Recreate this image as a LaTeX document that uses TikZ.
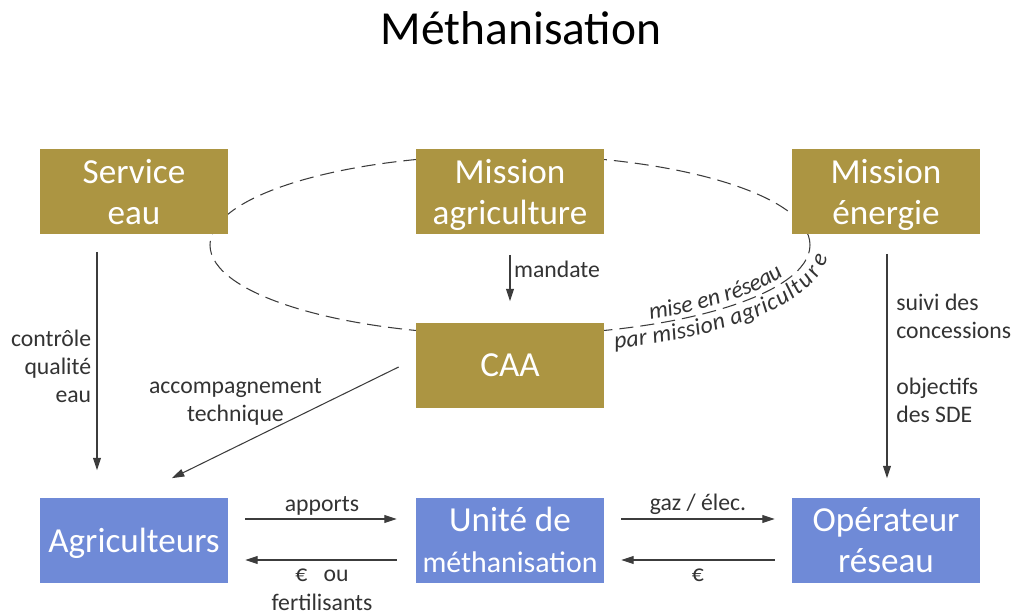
\documentclass[tikz,border=0pt]{standalone}
\usepackage{fontspec}
\setmainfont{Carlito}
\usetikzlibrary{arrows.meta,decorations.text}

\definecolor{boxgold}{HTML}{AC9542}
\definecolor{boxblue}{HTML}{6F8AD7}
\definecolor{linegray}{HTML}{3C3C3C}
\definecolor{textgray}{HTML}{333333}

\begin{document}
\begin{tikzpicture}[
  box/.style={minimum width=3.76cm, minimum height=1.7cm, inner sep=0pt, text depth=0pt, align=center, text=white, font=\fontsize{20}{23.5}\selectfont},
  goldbox/.style={box, fill=boxgold},
  bluebox/.style={box, fill=boxblue},
  flow/.style={draw=linegray, line width=0.6pt, -{Triangle[length=7pt,width=4.5pt]}},
  lbl/.style={text=textgray, font=\fontsize{13.5}{16}\selectfont, inner sep=2pt},
  ring/.style={draw=linegray, line width=0.6pt, dash pattern=on 8pt off 4pt}
]
\useasboundingbox (0,0) rectangle (20.26,12.26);
\node[font=\fontsize{27}{32}\selectfont] (titre) at (10.42,11.7) {Méthanisation};

% reseau des missions
\draw[ring] (10.2,7.36) ellipse [x radius=6cm, y radius=1.8cm];
\path[decorate, decoration={text along path, text align=center, raise=3pt, text color=textgray,
    text={|\fontsize{13.5}{16}\selectfont\itshape|mise en réseau}}]
  (10.2,7.36) ++(-71:6cm and 1.8cm) arc[start angle=-71, end angle=0, x radius=6cm, y radius=1.8cm];
\path[decorate, decoration={text along path, text align=center, raise=-11pt, text color=textgray,
    text={|\fontsize{13.5}{16}\selectfont\itshape|par mission agriculture}}]
  (10.2,7.36) ++(-71:6cm and 1.8cm) arc[start angle=-71, end angle=0, x radius=6cm, y radius=1.8cm];

% boites
\node[goldbox] (seau) at (2.68,8.42) {Service\\eau};
\node[goldbox] (magri) at (10.2,8.42) {Mission\\agriculture};
\node[goldbox] (menergie) at (17.72,8.42) {Mission\\énergie};
\node[goldbox] (caa) at (10.2,4.96) {CAA};
\node[bluebox] (agri) at (2.68,1.46) {Agriculteurs};
\node[bluebox] (unite) at (10.2,1.46) {Unité de\\{\fontsize{17}{20}\selectfont méthanisation}};
\node[bluebox] (oper) at (17.72,1.46) {Opérateur\\réseau};

% liens
\draw[flow, shorten <=0.34cm, shorten >=0.54cm] ([xshift=-0.74cm]seau.south) -- ([xshift=-0.74cm]agri.north)
  node[lbl, midway, left=1pt, align=right] {contrôle\\qualité\\eau};
\draw[flow, shorten <=0.4cm, shorten >=0.42cm] (magri.south) -- (caa.north)
  node[lbl, pos=0.4, right] {mandate};
\draw[flow, shorten <=0.38cm, shorten >=0.38cm] ([xshift=0.02cm]menergie.south) -- ([xshift=0.02cm]oper.north)
  node[lbl, pos=0.31, right=3pt, align=left] {suivi des\\concessions}
  node[lbl, pos=0.63, right=3pt, align=left] {objectifs\\des SDE};
\draw[flow] ([shift={(-0.34,-0.04)}]caa.west) -- ([shift={(0.76,0.38)}]agri.north)
  node[lbl, pos=0.72, above=10pt, align=center] {accompagnement\\technique};
\draw[flow, shorten <=0.34cm, shorten >=0.38cm] ([yshift=0.42cm]agri.east) -- ([yshift=0.42cm]unite.west)
  node[lbl, midway, above] {apports};
\draw[flow, shorten <=0.38cm, shorten >=0.34cm] ([yshift=-0.4cm]unite.west) -- ([yshift=-0.4cm]agri.east)
  node[lbl, midway, below=3pt, align=center] {€~~~ou\\fertilisants};
\draw[flow, shorten <=0.34cm, shorten >=0.34cm] ([yshift=0.42cm]unite.east) -- ([yshift=0.42cm]oper.west)
  node[lbl, midway, above] {gaz / élec.};
\draw[flow, shorten <=0.34cm, shorten >=0.34cm] ([yshift=-0.4cm]oper.west) -- ([yshift=-0.4cm]unite.east)
  node[lbl, midway, below=3pt] {€};
\end{tikzpicture}
\end{document}
